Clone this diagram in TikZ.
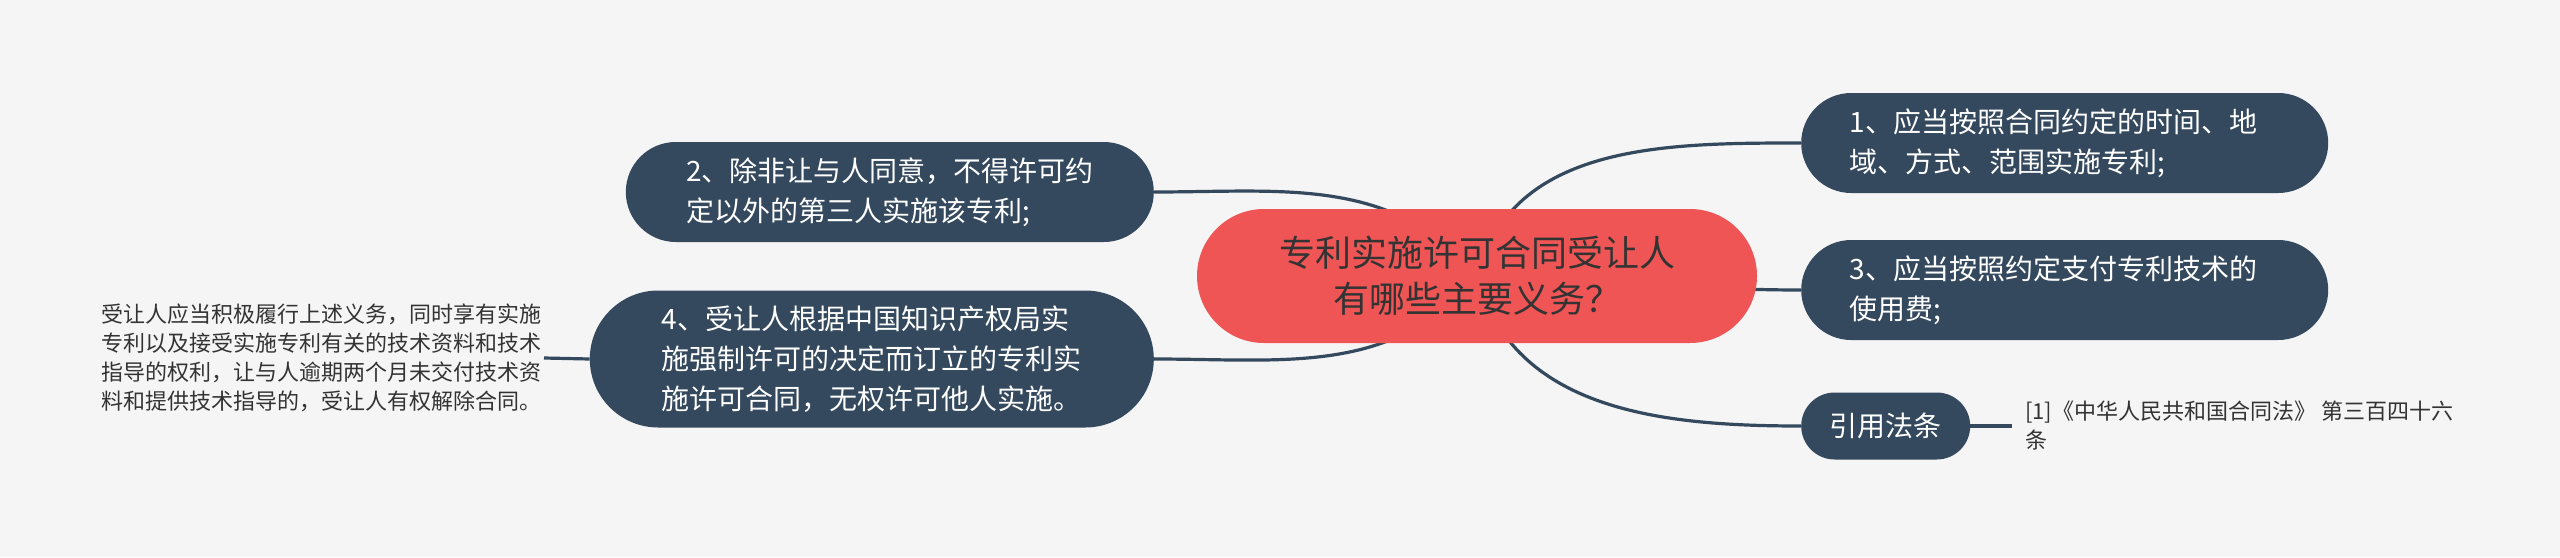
\documentclass[tikz,border=0pt]{standalone}
\usepackage{fontspec}
\newfontfamily\cjk{Noto Sans CJK SC}
\usetikzlibrary{shapes.misc,backgrounds}

\definecolor{bgcol}{HTML}{F5F5F5}
\definecolor{slate}{HTML}{34495E}
\definecolor{coral}{HTML}{EF5555}
\definecolor{ink}{HTML}{333333}

\begin{document}
\begin{tikzpicture}[x=1pt, y=1pt,
		topic/.style={rounded rectangle, fill=coral, text=ink, align=center, minimum width=564pt, minimum height=134pt, inner sep=2pt, font=\cjk\fontsize{36}{46}\selectfont},
		branch/.style={rounded rectangle, fill=slate, text=white, align=left, minimum height=100pt, inner sep=2pt, font=\cjk\fontsize{28}{40}\selectfont},
		remark/.style={text=ink, align=left, inner sep=2pt, font=\cjk\fontsize{22}{29}\selectfont},
		link/.style={draw=slate, line width=3.2pt}]
		\useasboundingbox (0,0) rectangle (2560,-557);

		\node [topic] (main) at (1477,-276) {专利实施许可合同受让人\\有哪些主要义务？};

		% right side
		\node [branch, minimum width=531pt, anchor=west] (duty1) at (1801,-143) {1、应当按照合同约定的时间、地\rule{22pt}{0pt}\\域、方式、范围实施专利;};
		\node [branch, minimum width=531pt, anchor=west] (duty3) at (1801,-290) {3、应当按照约定支付专利技术的\rule{22pt}{0pt}\\使用费;};
		\node [branch, minimum width=173pt, minimum height=67pt, anchor=west] (law) at (1801,-426) {引用法条};
		\node [remark, anchor=west, inner xsep=13pt] (lawref) at (2012,-426) {[1]《中华人民共和国合同法》 第三百四十六\\条};

		% left side
		\node [branch, minimum width=532pt, anchor=east] (duty2) at (1154,-192) {2、除非让与人同意，不得许可约\\定以外的第三人实施该专利;};
		\node [branch, minimum width=568pt, minimum height=137pt, anchor=east] (duty4) at (1154,-359) {4、受让人根据中国知识产权局实\\施强制许可的决定而订立的专利实\\施许可合同，无权许可他人实施。};
		\node [remark, anchor=east] (extra) at (544,-358) {受让人应当积极履行上述义务，同时享有实施\\专利以及接受实施专利有关的技术资料和技术\\指导的权利，让与人逾期两个月未交付技术资\\料和提供技术指导的，受让人有权解除合同。};

		\begin{scope}[on background layer]
		\fill [bgcol] (0,0) rectangle (2560,-557);
		\draw [link] (main.center) to [out=75, in=180] (duty1.west);
		\draw [link] (main.center) to [out=0, in=180] (duty3.west);
		\draw [link] (main.center) to [out=-75, in=180] (law.west);
		\draw [link] (main.center) to [out=130, in=0] (duty2.east);
		\draw [link] (main.center) to [out=230, in=0] (duty4.east);
		\draw [link] (law.east) -- (lawref.west);
		\draw [link] (extra.east) -- (duty4.west);
		\end{scope}
\end{tikzpicture}
\end{document}
